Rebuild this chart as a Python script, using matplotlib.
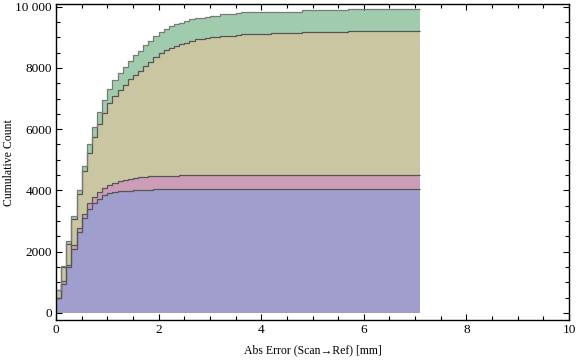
import numpy as np
import matplotlib
matplotlib.use("Agg")
import matplotlib.pyplot as plt
from matplotlib.ticker import MultipleLocator

# ---- data: cumulative counts per dataset, bins of width 0.1 from 0 to 7.1 ----
bin_edges = np.round(np.arange(0, 7.1001, 0.1), 2)

blue_cum = [490, 946, 1487, 2087, 2642, 3098, 3392, 3588, 3728, 3836,
            3914, 3947, 3966, 3979, 3989, 3999, 4012, 4022, 4022, 4050,
            4050, 4050, 4050, 4052, 4052, 4052, 4052, 4052, 4052, 4052,
            4052, 4052, 4052, 4052, 4052, 4052, 4052, 4052, 4052, 4052,
            4052, 4052, 4052, 4052, 4052, 4052, 4052, 4052, 4052, 4052,
            4052, 4052, 4052, 4052, 4052, 4052, 4052, 4052, 4052, 4052,
            4052, 4052, 4052, 4052, 4052, 4052, 4052, 4052, 4052, 4052,
            4052]
pink_cum = [10, 85, 88, 118, 130, 135, 196, 198, 205, 241,
            248, 293, 326, 346, 381, 404, 411, 428, 432, 432,
            432, 434, 434, 434, 436, 436, 436, 436, 436, 436,
            436, 436, 436, 436, 436, 436, 436, 436, 436, 436,
            436, 436, 436, 436, 436, 436, 436, 436, 436, 436,
            436, 436, 436, 436, 436, 436, 436, 436, 436, 436,
            436, 436, 436, 436, 436, 436, 436, 436, 436, 436,
            436]
olive_cum = [237, 456, 675, 861, 1109, 1385, 1631, 1954, 2231, 2436,
             2687, 2847, 2991, 3121, 3262, 3359, 3490, 3616, 3752, 3868,
             3998, 4104, 4179, 4242, 4285, 4338, 4403, 4449, 4449, 4481,
             4514, 4514, 4556, 4556, 4556, 4589, 4632, 4632, 4632, 4632,
             4632, 4632, 4644, 4644, 4644, 4644, 4644, 4644, 4677, 4677,
             4677, 4677, 4677, 4677, 4677, 4677, 4677, 4710, 4710, 4710,
             4710, 4710, 4710, 4710, 4710, 4710, 4710, 4710, 4710, 4710,
             4710]
green_cum = [23, 33, 85, 107, 141, 163, 303, 337, 392, 434,
             457, 519, 545, 577, 607, 653, 655, 680, 686, 690,
             694, 697, 700, 702, 703, 704, 705, 706, 706, 707,
             708, 708, 709, 709, 710, 710, 711, 711, 711, 711,
             711, 711, 712, 712, 712, 712, 712, 712, 714, 714,
             714, 714, 714, 714, 714, 714, 714, 717, 717, 717,
             717, 717, 717, 717, 717, 717, 717, 717, 717, 717,
             717]

series = [blue_cum, pink_cum, olive_cum, green_cum]
fill_colors = ["#9F9ECC", "#CB9DB7", "#CAC6A1", "#A0CBAD"]
edge_colors = ["#555555", "#555555", "#555555", "#7A7A7A"]

x_ticks = [0, 2, 4, 6, 8, 10]
y_ticks = [0, 2000, 4000, 6000, 8000, 10000]
y_tick_labels = ["0", "2000", "4000", "6000", "8000", "10 000"]

# ---- figure ----
plt.rcParams["font.family"] = ["Liberation Serif", "DejaVu Serif"]
fig = plt.figure(figsize=(5.76, 3.6), dpi=100)
ax = fig.add_axes([56 / 576, 40 / 360, 513 / 576, 315.7 / 360])

base = np.zeros(len(blue_cum))
for vals, fc, ec in zip(series, fill_colors, edge_colors):
    top = base + np.asarray(vals, dtype=float)
    ax.stairs(top, bin_edges, baseline=base, fill=True, color=fc, lw=0, zorder=1)
    base = top
base = np.zeros(len(blue_cum))
for vals, fc, ec in zip(series, fill_colors, edge_colors):
    top = base + np.asarray(vals, dtype=float)
    ax.stairs(top, bin_edges, baseline=None, fill=False, color=ec, lw=0.9, zorder=2)
    base = top

ax.set_xlim(0, 10)
ax.set_ylim(-235, 10080)
ax.set_xticks(x_ticks)
ax.set_xticklabels([str(t) for t in x_ticks])
ax.set_yticks(y_ticks)
ax.set_yticklabels(y_tick_labels)
ax.xaxis.set_minor_locator(MultipleLocator(0.5))
ax.yaxis.set_minor_locator(MultipleLocator(500))
ax.tick_params(which="both", direction="in", top=True, right=True,
               width=0.8, labelsize=9.5, pad=3, colors="black")
ax.tick_params(which="major", length=4.3)
ax.tick_params(which="minor", length=2.6)
for sp in ax.spines.values():
    sp.set_linewidth(1.0)

ax.set_xlabel("Abs Error (Scan\u2192Ref) [mm]", fontsize=8.5, labelpad=6)
ax.set_ylabel("Cumulative Count", fontsize=8.5, va="center")
ax.yaxis.set_label_coords(-0.092, 0.5)

fig.savefig("out.png", dpi=100)
